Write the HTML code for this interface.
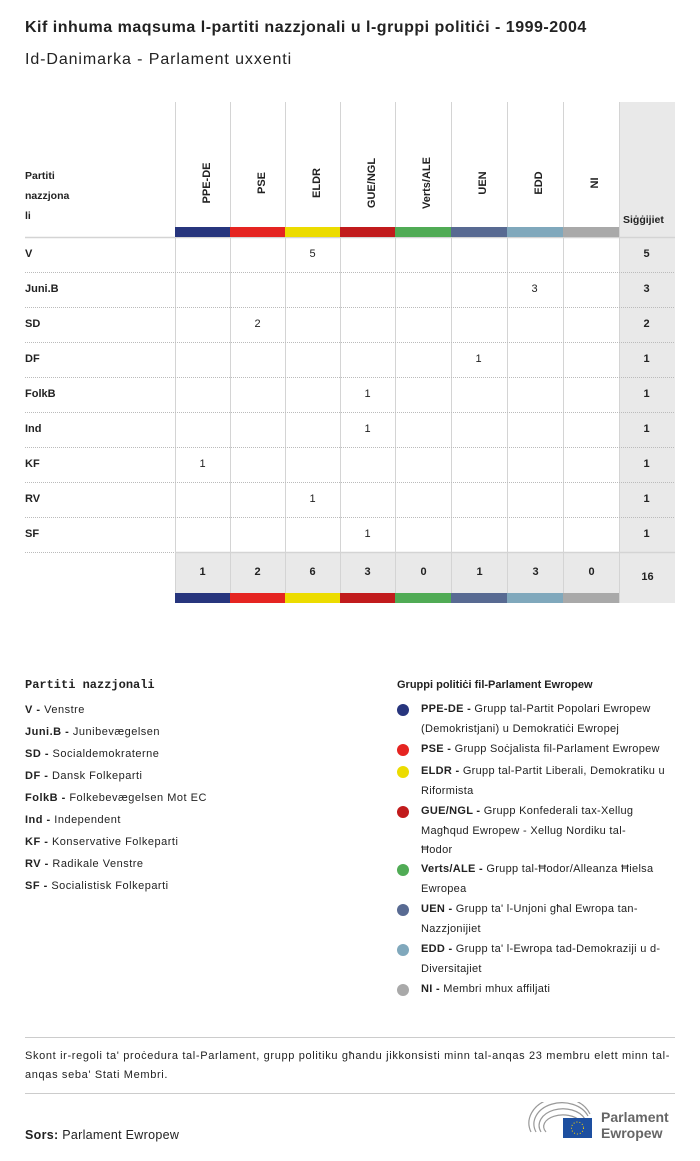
<!DOCTYPE html>
<html><head><meta charset="utf-8"><style>
*{margin:0;padding:0;box-sizing:border-box}
body{width:700px;height:1161px;background:#fff;font-family:"Liberation Sans",sans-serif;color:#222;position:relative;overflow:hidden}
.a{position:absolute}
.t{font-size:11px}
.b{font-weight:bold}
.rot{position:absolute;top:176px;width:100px;height:14px;line-height:14px;text-align:center;transform:rotate(-90deg);transform-origin:center;font-size:11px;font-weight:bold;white-space:nowrap}
.cell{position:absolute;font-size:11px;text-align:center;width:55px}
.dot{position:absolute;width:12px;height:12px;border-radius:6px;left:397px}
.lg{position:absolute;left:421px;font-size:11px;line-height:19.5px;white-space:nowrap;letter-spacing:0.3px}
</style></head><body>
<div class="a b" style="left:25px;top:19px;font-size:16px;letter-spacing:0.5px">Kif inhuma maqsuma l-partiti nazzjonali u l-gruppi politiċi - 1999-2004</div>
<div class="a" style="left:25px;top:51px;font-size:16px;letter-spacing:0.9px">Id-Danimarka - Parlament uxxenti</div>

<div class="a" style="left:619px;top:102px;width:56px;height:501px;background:#e9e9e9"></div>
<div class="a" style="left:175px;top:552px;width:444px;height:41px;background:#e9e9e9"></div>
<svg class="a" style="left:0;top:0" width="700" height="620">
<g stroke="#d4d4d4" stroke-width="1">
<line x1="175.5" y1="102" x2="175.5" y2="603"/><line x1="230.5" y1="102" x2="230.5" y2="603"/><line x1="285.5" y1="102" x2="285.5" y2="603"/><line x1="340.5" y1="102" x2="340.5" y2="603"/><line x1="395.5" y1="102" x2="395.5" y2="603"/><line x1="451.5" y1="102" x2="451.5" y2="603"/><line x1="507.5" y1="102" x2="507.5" y2="603"/><line x1="563.5" y1="102" x2="563.5" y2="603"/><line x1="619.5" y1="102" x2="619.5" y2="603"/>
<line x1="25" y1="237.5" x2="675" y2="237.5" stroke-width="1.5"/>
<line x1="175" y1="552.5" x2="675" y2="552.5" stroke-width="1.5"/>
</g>
<g stroke="#bbb" stroke-dasharray="1,1">
<line x1="25" y1="272.5" x2="675" y2="272.5"/><line x1="25" y1="307.5" x2="675" y2="307.5"/><line x1="25" y1="342.5" x2="675" y2="342.5"/><line x1="25" y1="377.5" x2="675" y2="377.5"/><line x1="25" y1="412.5" x2="675" y2="412.5"/><line x1="25" y1="447.5" x2="675" y2="447.5"/><line x1="25" y1="482.5" x2="675" y2="482.5"/><line x1="25" y1="517.5" x2="675" y2="517.5"/><line x1="25" y1="552.5" x2="175" y2="552.5"/>
</g>
<g>
<rect x="175" y="227" width="55" height="10" fill="#27357d"/><rect x="230" y="227" width="55" height="10" fill="#e52421"/><rect x="285" y="227" width="55" height="10" fill="#ecdc00"/><rect x="340" y="227" width="55" height="10" fill="#c11b1c"/><rect x="395" y="227" width="56" height="10" fill="#50ab55"/><rect x="451" y="227" width="56" height="10" fill="#586a92"/><rect x="507" y="227" width="56" height="10" fill="#80a8bc"/><rect x="563" y="227" width="56" height="10" fill="#a9a9a9"/>
<rect x="175" y="593" width="55" height="10" fill="#27357d"/><rect x="230" y="593" width="55" height="10" fill="#e52421"/><rect x="285" y="593" width="55" height="10" fill="#ecdc00"/><rect x="340" y="593" width="55" height="10" fill="#c11b1c"/><rect x="395" y="593" width="56" height="10" fill="#50ab55"/><rect x="451" y="593" width="56" height="10" fill="#586a92"/><rect x="507" y="593" width="56" height="10" fill="#80a8bc"/><rect x="563" y="593" width="56" height="10" fill="#a9a9a9"/>
</g>
</svg>
<div class="rot" style="left:157px">PPE-DE</div>
<div class="rot" style="left:212px">PSE</div>
<div class="rot" style="left:267px">ELDR</div>
<div class="rot" style="left:322px">GUE/NGL</div>
<div class="rot" style="left:377px">Verts/ALE</div>
<div class="rot" style="left:433px">UEN</div>
<div class="rot" style="left:489px">EDD</div>
<div class="rot" style="left:545px">NI</div>
<div class="a t b" style="left:25px;top:166px;line-height:20px;font-size:10.5px">Partiti<br>nazzjona<br>li</div>
<div class="a t b" style="left:623px;top:214px;font-size:10.5px">Siġġijiet</div>

<div class="a t b" style="left:25px;top:248px">V</div>
<div class="a t b" style="left:25px;top:283px">Juni.B</div>
<div class="a t b" style="left:25px;top:318px">SD</div>
<div class="a t b" style="left:25px;top:353px">DF</div>
<div class="a t b" style="left:25px;top:388px">FolkB</div>
<div class="a t b" style="left:25px;top:423px">Ind</div>
<div class="a t b" style="left:25px;top:458px">KF</div>
<div class="a t b" style="left:25px;top:493px">RV</div>
<div class="a t b" style="left:25px;top:528px">SF</div>

<div class="cell" style="left:285px;top:248px">5</div>
<div class="cell" style="left:507px;top:283px">3</div>
<div class="cell" style="left:230px;top:318px">2</div>
<div class="cell" style="left:451px;top:353px">1</div>
<div class="cell" style="left:340px;top:388px">1</div>
<div class="cell" style="left:340px;top:423px">1</div>
<div class="cell" style="left:175px;top:458px">1</div>
<div class="cell" style="left:285px;top:493px">1</div>
<div class="cell" style="left:340px;top:528px">1</div>

<div class="cell b" style="left:619px;top:248px">5</div>
<div class="cell b" style="left:619px;top:283px">3</div>
<div class="cell b" style="left:619px;top:318px">2</div>
<div class="cell b" style="left:619px;top:353px">1</div>
<div class="cell b" style="left:619px;top:388px">1</div>
<div class="cell b" style="left:619px;top:423px">1</div>
<div class="cell b" style="left:619px;top:458px">1</div>
<div class="cell b" style="left:619px;top:493px">1</div>
<div class="cell b" style="left:619px;top:528px">1</div>

<div class="cell b" style="left:175px;top:566px">1</div>
<div class="cell b" style="left:230px;top:566px">2</div>
<div class="cell b" style="left:285px;top:566px">6</div>
<div class="cell b" style="left:340px;top:566px">3</div>
<div class="cell b" style="left:396px;top:566px">0</div>
<div class="cell b" style="left:452px;top:566px">1</div>
<div class="cell b" style="left:508px;top:566px">3</div>
<div class="cell b" style="left:564px;top:566px">0</div>
<div class="cell b" style="left:620px;top:571px">16</div>

<div class="a b" style="left:25px;top:678px;font-family:'Liberation Mono',monospace;font-size:12px">Partiti nazzjonali</div>
<div class="a t" style="left:25px;top:699px;line-height:22px;letter-spacing:0.5px">
<b>V -</b> Venstre<br><b>Juni.B -</b> Junibevægelsen<br><b>SD -</b> Socialdemokraterne<br><b>DF -</b> Dansk Folkeparti<br><b>FolkB -</b> Folkebevægelsen Mot EC<br><b>Ind -</b> Independent<br><b>KF -</b> Konservative Folkeparti<br><b>RV -</b> Radikale Venstre<br><b>SF -</b> Socialistisk Folkeparti</div>

<div class="a t b" style="left:397px;top:679px">Gruppi politiċi fil-Parlament Ewropew</div>
<div class="dot" style="top:704px;background:#27357d"></div>
<div class="lg" style="top:700px"><b>PPE-DE -</b> Grupp tal-Partit Popolari Ewropew<br>(Demokristjani) u Demokratiċi Ewropej</div>
<div class="dot" style="top:744px;background:#e52421"></div>
<div class="lg" style="top:740px"><b>PSE -</b> Grupp Soċjalista fil-Parlament Ewropew</div>
<div class="dot" style="top:766px;background:#ecdc00"></div>
<div class="lg" style="top:762px"><b>ELDR -</b> Grupp tal-Partit Liberali, Demokratiku u<br>Riformista</div>
<div class="dot" style="top:806px;background:#c11b1c"></div>
<div class="lg" style="top:802px"><b>GUE/NGL -</b> Grupp Konfederali tax-Xellug<br>Magħqud Ewropew - Xellug Nordiku tal-<br>Ħodor</div>
<div class="dot" style="top:864px;background:#50ab55"></div>
<div class="lg" style="top:860px"><b>Verts/ALE -</b> Grupp tal-Ħodor/Alleanza Ħielsa<br>Ewropea</div>
<div class="dot" style="top:904px;background:#586a92"></div>
<div class="lg" style="top:900px"><b>UEN -</b> Grupp ta' l-Unjoni għal Ewropa tan-<br>Nazzjonijiet</div>
<div class="dot" style="top:944px;background:#80a8bc"></div>
<div class="lg" style="top:940px"><b>EDD -</b> Grupp ta' l-Ewropa tad-Demokraziji u d-<br>Diversitajiet</div>
<div class="dot" style="top:984px;background:#a9a9a9"></div>
<div class="lg" style="top:980px"><b>NI -</b> Membri mhux affiljati</div>

<div class="a" style="left:25px;top:1037px;width:650px;border-top:1px solid #ccc"></div>
<div class="a t" style="left:25px;top:1047px;line-height:19px;white-space:nowrap;letter-spacing:0.65px">Skont ir-regoli ta' proċedura tal-Parlament, grupp politiku għandu jikkonsisti minn tal-anqas 23 membru elett minn tal-<br>anqas seba' Stati Membri.</div>
<div class="a" style="left:25px;top:1093px;width:650px;border-top:1px solid #ccc"></div>
<div class="a" style="left:25px;top:1128px;font-size:12.5px;letter-spacing:0.3px"><b>Sors:</b> Parlament Ewropew</div>
<svg class="a" style="left:528px;top:1102px" width="70" height="38">
<g fill="none" stroke="#999" stroke-width="1.2">
<path d="M3 30 A30 24 0 0 1 62 12"/><path d="M8 30 A25 19 0 0 1 60 14"/><path d="M13 30 A20 14 0 0 1 57 17"/><path d="M18 30 A15 9 0 0 1 52 19"/>
</g>
<rect x="35" y="16" width="29" height="20" fill="#1d4fa0"/>
<circle cx="49.5" cy="26" r="6" fill="none" stroke="#ffd500" stroke-dasharray="1,2"/>
</svg>
<div class="a b" style="left:601px;top:1109px;font-size:14px;line-height:16px;color:#666">Parlament<br>Ewropew</div>
</body></html>
